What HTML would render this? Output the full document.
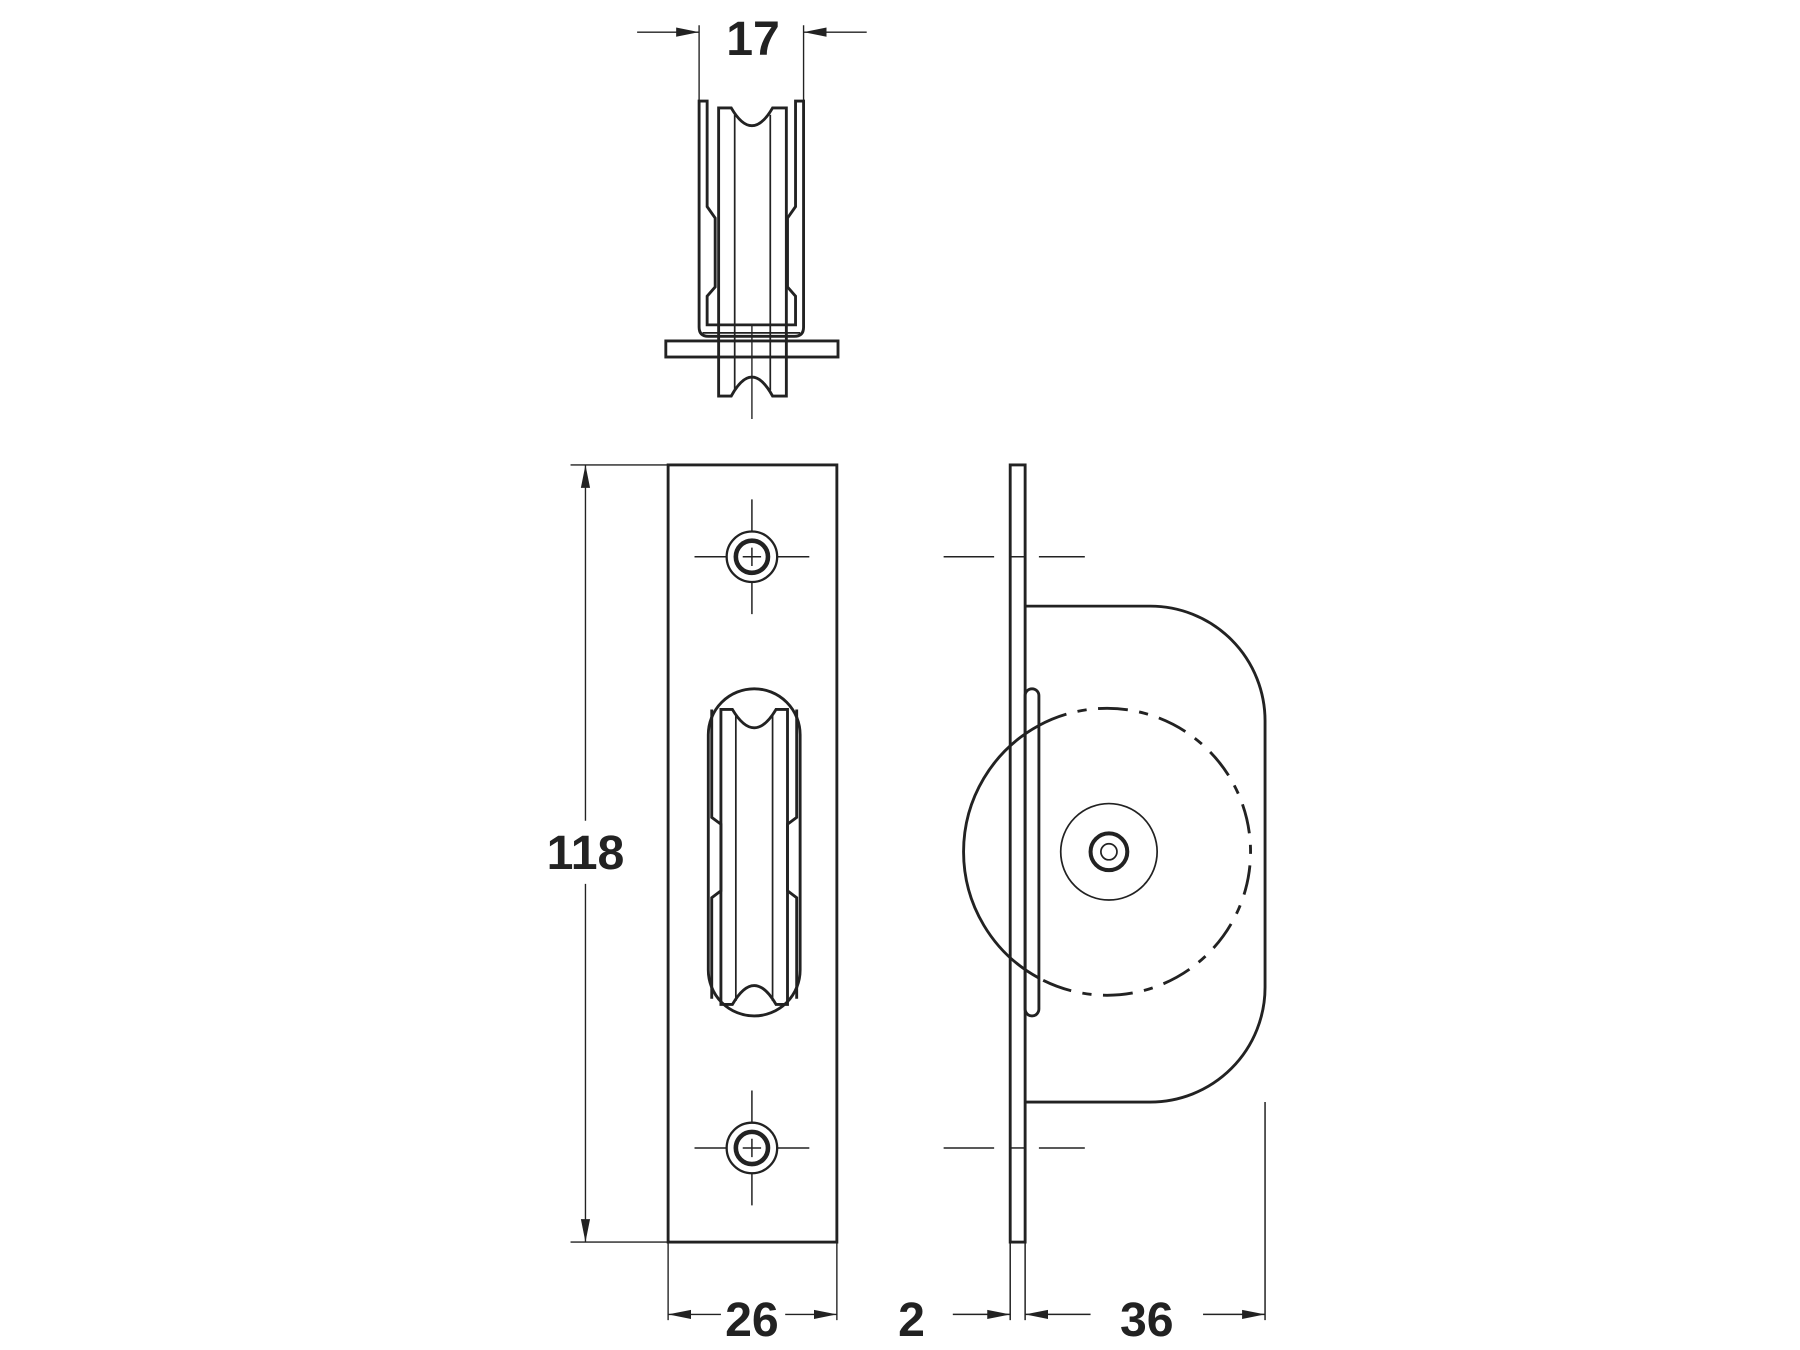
<!DOCTYPE html>
<html><head><meta charset="utf-8"><style>
html,body{margin:0;padding:0;background:#fff;width:1800px;height:1350px;overflow:hidden}
svg{display:block}
text{font-family:"Liberation Sans",sans-serif;font-weight:bold;fill:#222}
</style></head><body>
<svg width="1800" height="1350" viewBox="0 0 1568 1176" xmlns="http://www.w3.org/2000/svg">
<defs>
<marker id="a" viewBox="0 0 20 10" refX="20" refY="5" markerWidth="20" markerHeight="10" markerUnits="userSpaceOnUse" orient="auto"><path d="M0,1 L20,5 L0,9 Z" fill="#222"/></marker>
</defs>
<g fill="none" stroke="#222" stroke-width="3">
<!-- TOP VIEW -->
<path d="M609,88 V285 Q609,293 617,293 H692 Q700,293 700,285 V88 H693 V180 L686,190 V250 L693,258 V283 H616 V258 L623,250 V190 L616,180 V88 Z" stroke-width="2.5"/>
<rect x="580" y="297" width="150" height="14" stroke-width="2.5"/>
<path d="M626,94 H637 Q655,125 673,94 H685 V345 H673 Q655,312 637,345 H626 Z" stroke-width="2.5"/>
<line x1="640" y1="100" x2="640" y2="340" stroke-width="1.5"/>
<line x1="671" y1="100" x2="671" y2="340" stroke-width="1.5"/>
<line x1="612" y1="290" x2="697" y2="290" stroke-width="1.5"/>
<line x1="655" y1="283" x2="655" y2="365" stroke-width="1.2"/>
<!-- dim 17 -->
<g stroke-width="1.2">
<line x1="609" y1="88" x2="609" y2="22"/><line x1="700" y1="88" x2="700" y2="22"/>
<line x1="555" y1="28" x2="609" y2="28" marker-end="url(#a)"/>
<line x1="755" y1="28" x2="700" y2="28" marker-end="url(#a)"/>
</g>
<!-- FRONT VIEW -->
<rect x="582" y="405" width="147" height="677" stroke-width="2.5"/>
<g stroke-width="1.3">
<line x1="605" y1="485" x2="705" y2="485" stroke-dasharray="28,14,16,14,28"/>
<line x1="655" y1="435" x2="655" y2="535" stroke-dasharray="28,14,16,14,28"/>
<line x1="605" y1="1000" x2="705" y2="1000" stroke-dasharray="28,14,16,14,28"/>
<line x1="655" y1="950" x2="655" y2="1050" stroke-dasharray="28,14,16,14,28"/>
</g>
<circle cx="655" cy="485" r="22" stroke-width="2"/><circle cx="655" cy="485" r="14" stroke-width="4"/>
<circle cx="655" cy="1000" r="22" stroke-width="2"/><circle cx="655" cy="1000" r="14" stroke-width="4"/>
<rect x="617" y="600" width="80" height="285" rx="40" ry="40" stroke-width="2.5"/>
<path d="M628,618 H638 Q657,650 676,618 H686 V875 H676 Q657,842 638,875 H628 Z" stroke-width="2.5"/>
<path d="M620,618 V712 L628,718 V776 L620,782 V870" stroke-width="2.5"/>
<path d="M694,618 V712 L686,718 V776 L694,782 V870" stroke-width="2.5"/>
<line x1="641" y1="622" x2="641" y2="872" stroke-width="1.5"/>
<line x1="673" y1="622" x2="673" y2="872" stroke-width="1.5"/>
<!-- dim 118 -->
<g stroke-width="1.2">
<line x1="497" y1="405" x2="582" y2="405"/><line x1="497" y1="1082" x2="582" y2="1082"/>
<line x1="510" y1="715" x2="510" y2="405" marker-end="url(#a)"/>
<line x1="510" y1="770" x2="510" y2="1082" marker-end="url(#a)"/>
<line x1="582" y1="1082" x2="582" y2="1150"/><line x1="729" y1="1082" x2="729" y2="1150"/>
<line x1="628" y1="1145" x2="582" y2="1145" marker-end="url(#a)"/>
<line x1="684" y1="1145" x2="729" y2="1145" marker-end="url(#a)"/>
</g>
<!-- SIDE VIEW -->
<rect x="880" y="405" width="13" height="677" stroke-width="2.5"/>
<path d="M893,528 H1002 A100,100 0 0 1 1102,628 V860 A100,100 0 0 1 1002,960 H893" stroke-width="2.5"/>
<rect x="893" y="600" width="12" height="285" rx="6" stroke-width="2.5"/>
<path d="M905,632 A125,125 0 0 0 905,852" stroke-width="2.5"/>
<path d="M905,632 A125,125 0 1 1 905,852" stroke-width="2.5" stroke-dasharray="26,10,8,10"/>
<circle cx="966" cy="742" r="42" stroke-width="1.5"/>
<circle cx="966" cy="742" r="16" stroke-width="3.5"/>
<circle cx="966" cy="742" r="7" stroke-width="1.5"/>
<g stroke-width="1.3">
<line x1="822" y1="485" x2="866" y2="485"/><line x1="880" y1="485" x2="893" y2="485"/><line x1="905" y1="485" x2="945" y2="485"/>
<line x1="822" y1="1000" x2="866" y2="1000"/><line x1="880" y1="1000" x2="893" y2="1000"/><line x1="905" y1="1000" x2="945" y2="1000"/>
<line x1="880" y1="1082" x2="880" y2="1150"/><line x1="893" y1="1082" x2="893" y2="1150"/>
<line x1="1102" y1="960" x2="1102" y2="1150"/>
<line x1="830" y1="1145" x2="880" y2="1145" marker-end="url(#a)"/>
<line x1="950" y1="1145" x2="893" y2="1145" marker-end="url(#a)"/>
<line x1="1048" y1="1145" x2="1102" y2="1145" marker-end="url(#a)"/>
</g>
</g>
<g font-size="42" text-anchor="middle">
<text x="656" y="48">17</text>
<text x="510" y="757">118</text>
<text x="655" y="1164">26</text>
<text x="794" y="1164">2</text>
<text x="999" y="1164">36</text>
</g>
</svg>
</body></html>
